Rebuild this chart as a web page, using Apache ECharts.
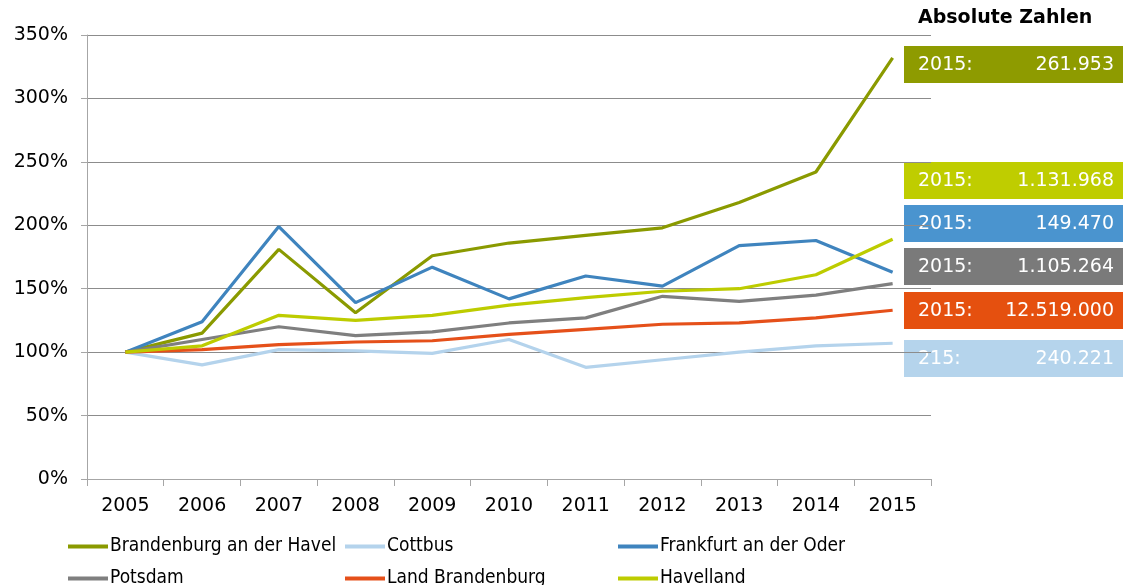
<!DOCTYPE html>
<html>
<head>
    <meta charset="UTF-8"/>
    <title>Entwicklung 2005-2015</title>
    <script src="https://cdn.jsdelivr.net/npm/echarts@6/dist/echarts.min.js"></script>
    <style>
        html, body { margin: 0; padding: 0; background: #fff; }
        #main { width: 1123px; height: 585px; }
    </style>
</head>
<body>
<div id="main"></div>
<script>
    // Jahre (Kategorien)
    var years = ['2005', '2006', '2007', '2008', '2009', '2010', '2011', '2012', '2013', '2014', '2015'];

    // Index 2005 = 100 %
    var brandenburgHavel = [100, 115, 181, 131, 176, 186, 192, 198, 218, 242, 332];
    var cottbus          = [100, 90, 102, 101, 99, 110, 88, 94, 100, 105, 107];
    var frankfurtOder    = [100, 124, 199, 139, 167, 142, 160, 152, 184, 188, 163];
    var potsdam          = [100, 110, 120, 113, 116, 123, 127, 144, 140, 145, 154];
    var landBrandenburg  = [100, 102, 106, 108, 109, 114, 118, 122, 123, 127, 133];
    var havelland        = [100, 105, 129, 125, 129, 137, 143, 148, 150, 161, 189];

    var seriesNames = ['Brandenburg an der Havel', 'Cottbus', 'Frankfurt an der Oder', 'Potsdam', 'Land Brandenburg', 'Havelland'];
    var seriesColors = ['#8a9a00', '#b4d3ec', '#3f84be', '#7f7f7f', '#e5501a', '#bdcc00'];

    // Kästen "Absolute Zahlen" (Reihenfolge von oben nach unten)
    var boxLabels = ['2015:', '2015:', '2015:', '2015:', '2015:', '215:'];
    var boxValues = ['261.953', '1.131.968', '149.470', '1.105.264', '12.519.000', '240.221'];
    var boxColors = ['#8e9b00', '#bfcd00', '#4a94cf', '#7a7a7a', '#e5500f', '#b5d4ec'];
    var boxTops = [46, 162, 205, 248, 292, 340];

    var chart = echarts.init(document.getElementById('main'));

    var allData = [brandenburgHavel, cottbus, frankfurtOder, potsdam, landBrandenburg, havelland];
    var series = [];
    for (var i = 0; i < seriesNames.length; i++) {
        series.push({
            name: seriesNames[i],
            type: 'line',
            data: allData[i],
            symbol: 'none',
            smooth: false,
            lineStyle: { width: 3.2, color: seriesColors[i] },
            itemStyle: { color: seriesColors[i] }
        });
    }

    // Legende: je Eintrag eine eigene Komponente (3 Spalten, 2 Zeilen)
    var legendLeft = [68, 345, 618, 68, 345, 618];
    var legendTop = [537, 537, 537, 569, 569, 569];
    var legends = [];
    for (var k = 0; k < seriesNames.length; k++) {
        legends.push({
            left: legendLeft[k],
            top: legendTop[k],
            padding: 0,
            itemWidth: 40,
            itemHeight: 4,
            icon: 'rect',
            data: [seriesNames[k]],
            textStyle: {
                fontFamily: 'DejaVu Sans Condensed', fontSize: 19, color: '#000',
                padding: [0, 0, 0, -3]
            }
        });
    }

    var graphics = [{
        type: 'text',
        left: 918,
        top: 9,
        style: { text: 'Absolute Zahlen', font: 'bold 19px "DejaVu Sans"', fill: '#000' }
    }];
    for (var j = 0; j < boxLabels.length; j++) {
        graphics.push({
            type: 'rect',
            shape: { x: 904, y: boxTops[j], width: 219, height: 37 },
            style: { fill: boxColors[j] }
        });
        graphics.push({
            type: 'text',
            x: 918, y: boxTops[j] + 19,
            style: { text: boxLabels[j], font: '19px "DejaVu Sans"', fill: '#fff', verticalAlign: 'middle', align: 'left' }
        });
        graphics.push({
            type: 'text',
            x: 1114, y: boxTops[j] + 19,
            style: { text: boxValues[j], font: '19px "DejaVu Sans"', fill: '#fff', verticalAlign: 'middle', align: 'right' }
        });
    }

    chart.setOption({
        animation: false,
        grid: { left: 87, right: 192, top: 35, bottom: 106, containLabel: false },
        legend: legends,
        xAxis: {
            type: 'category',
            data: years,
            boundaryGap: true,
            axisLine: { lineStyle: { color: '#a6a6a6', width: 1 } },
            axisTick: { show: true, interval: 0, length: 7, lineStyle: { color: '#a6a6a6' } },
            axisLabel: { margin: 18, fontFamily: 'DejaVu Sans', fontSize: 19, color: '#000' }
        },
        yAxis: {
            type: 'value',
            min: 0,
            max: 350,
            interval: 50,
            axisLine: { show: true, lineStyle: { color: '#a6a6a6', width: 1 } },
            axisTick: { show: true, length: 6, lineStyle: { color: '#a6a6a6' } },
            splitLine: { lineStyle: { color: '#8c8c8c', width: 1 } },
            axisLabel: { margin: 19, formatter: '{value}%', fontFamily: 'DejaVu Sans', fontSize: 19, color: '#000' }
        },
        graphic: graphics,
        series: series
    });
</script>
</body>
</html>
